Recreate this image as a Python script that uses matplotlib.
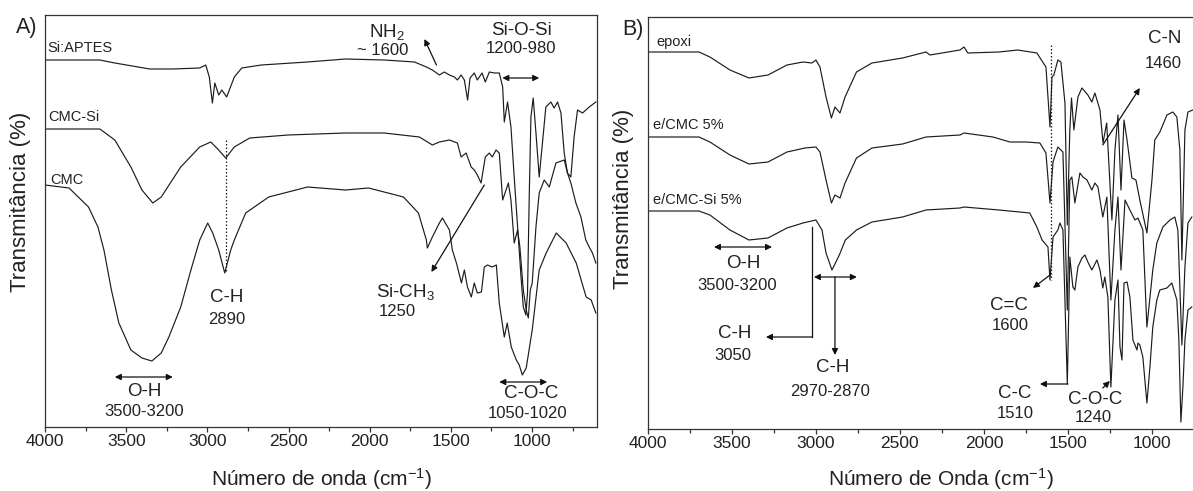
import matplotlib
matplotlib.use('Agg')
import matplotlib.pyplot as plt
from matplotlib.ticker import MultipleLocator

plt.rcParams['font.family'] = ['Liberation Sans', 'DejaVu Sans']
plt.rcParams['mathtext.fontset'] = 'custom'
plt.rcParams['mathtext.rm'] = 'Liberation Sans'
plt.rcParams['mathtext.it'] = 'Liberation Sans:italic'
plt.rcParams['mathtext.default'] = 'regular'

# ---------------- Panel A data (wavenumber cm-1, transmittance a.u. with offsets) -------------
wn_si = [4000, 3662, 3570, 3354, 3213, 3047, 3010, 2988, 2969, 2954, 2930, 2911, 2881, 2834, 2788,
         2668, 2384, 2149, 1911, 1724, 1651, 1614, 1571, 1540, 1509, 1478, 1460, 1437, 1417, 1397,
         1382, 1356, 1337, 1308, 1288, 1263, 1232, 1202, 1181, 1171, 1151, 1130, 1110, 1089, 1068,
         1054, 1038, 1028, 1017, 1007, 993, 976, 956, 936, 915, 884, 864, 843, 822, 802,
         782, 761, 741, 720, 689, 648, 607]
t_si = [363, 363, 360, 354, 354, 355, 358, 346, 320, 340, 328, 333, 326, 346, 355,
        358, 361, 364, 363, 361, 356, 353, 348, 351, 348, 346, 343, 348, 343, 323,
        345, 350, 343, 350, 341, 351, 350, 350, 336, 301, 321, 296, 246, 196, 146,
        116, 108, 130, 230, 306, 325, 290, 246, 280, 316, 321, 315, 321, 310, 270,
        250, 246, 286, 313, 310, 316, 321]

wn_cs = [4000, 3662, 3570, 3471, 3403, 3336, 3284, 3164, 3047, 2979, 2930, 2887, 2834, 2739, 2502,
         2149, 1911, 1694, 1614, 1571, 1509, 1460, 1437, 1406, 1375, 1356, 1337, 1314, 1288, 1263,
         1245, 1222, 1202, 1181, 1146, 1130, 1110, 1089, 1075, 1054, 1036, 1023, 1011, 999, 976,
         956, 925, 894, 853, 802, 782, 761, 730, 699, 669, 648, 628, 607]
t_cs = [294, 294, 283, 256, 233, 220, 226, 256, 276, 281, 273, 265, 276, 285, 288,
        290, 290, 286, 278, 281, 283, 280, 266, 270, 256, 253, 248, 240, 266, 270,
        266, 273, 270, 223, 240, 223, 180, 193, 176, 133, 113, 105, 133, 140, 196,
        230, 243, 236, 260, 263, 250, 240, 220, 206, 183, 176, 170, 160]

wn_c = [4000, 3852, 3732, 3674, 3637, 3591, 3545, 3471, 3403, 3342, 3284, 3237, 3164, 3096, 3047,
        2998, 2967, 2930, 2893, 2856, 2834, 2764, 2622, 2383, 2149, 2007, 1792, 1700, 1651, 1645,
        1614, 1571, 1552, 1509, 1491, 1466, 1435, 1417, 1398, 1374, 1356, 1337, 1312, 1294, 1275,
        1245, 1220, 1202, 1171, 1153, 1128, 1097, 1079, 1060, 1036, 999, 956, 913, 851, 790,
        728, 667, 636, 607]
t_c = [238, 235, 216, 196, 173, 133, 100, 73, 65, 62, 70, 86, 116, 156, 183,
       200, 190, 173, 150, 173, 183, 210, 226, 236, 233, 235, 226, 210, 183, 175,
       186, 200, 205, 193, 173, 160, 140, 153, 136, 126, 140, 130, 131, 156, 158,
       156, 158, 120, 86, 100, 76, 63, 58, 48, 55, 93, 153, 170, 190, 180,
       160, 126, 123, 110]

labels_A = ['Si:APTES', 'CMC-Si', 'CMC']

# ---------------- Panel B data -------------
wn_e = [4000, 3694, 3629, 3510, 3397, 3284, 3171, 3076, 3023, 2999, 2975, 2939, 2907, 2886, 2856,
        2826, 2758, 2666, 2484, 2345, 2321, 2143, 2119, 2096, 1911, 1799, 1686, 1632, 1608, 1596,
        1585, 1561, 1543, 1519, 1505, 1490, 1480, 1466, 1442, 1418, 1383, 1359, 1341, 1311, 1293,
        1271, 1240, 1222, 1204, 1186, 1168, 1150, 1121, 1097, 1074, 1032, 1002, 985, 955, 913,
        878, 854, 836, 824, 806, 788, 759]
t_e = [376, 376, 371, 358, 350, 353, 363, 366, 365, 368, 361, 331, 310, 321, 315,
       331, 356, 365, 370, 376, 373, 378, 381, 375, 376, 378, 375, 361, 301, 351,
       353, 368, 366, 325, 203, 298, 330, 298, 331, 340, 333, 326, 335, 318, 285,
       305, 208, 278, 313, 238, 308, 288, 250, 248, 228, 195, 248, 288, 296, 313,
       316, 311, 278, 168, 298, 316, 318]

wn_m = [4000, 3694, 3629, 3510, 3397, 3284, 3171, 3064, 2999, 2975, 2939, 2907, 2886, 2856, 2826,
        2758, 2666, 2484, 2345, 2143, 2119, 1947, 1846, 1751, 1668, 1632, 1608, 1590, 1561, 1531,
        1505, 1490, 1478, 1460, 1430, 1412, 1388, 1359, 1341, 1323, 1294, 1270, 1246, 1222, 1204,
        1186, 1162, 1133, 1103, 1085, 1056, 1032, 997, 973, 937, 895, 866, 848, 824, 806,
        788, 765]
t_m = [291, 291, 286, 273, 264, 266, 276, 280, 281, 276, 248, 225, 233, 230, 245,
       270, 280, 284, 291, 293, 295, 291, 286, 286, 285, 275, 225, 266, 281, 276,
       118, 248, 251, 225, 255, 251, 248, 238, 245, 241, 211, 231, 128, 198, 231,
       158, 228, 218, 208, 210, 198, 101, 158, 185, 201, 208, 211, 198, 83, 161,
       205, 211]

wn_s = [4000, 3694, 3629, 3510, 3397, 3284, 3171, 3076, 2999, 2963, 2939, 2904, 2883, 2860, 2824,
        2758, 2666, 2484, 2345, 2143, 2119, 1911, 1728, 1686, 1655, 1620, 1608, 1590, 1561, 1549,
        1531, 1505, 1490, 1472, 1460, 1442, 1418, 1400, 1383, 1359, 1329, 1311, 1294, 1282, 1264,
        1246, 1222, 1204, 1192, 1180, 1168, 1150, 1133, 1115, 1091, 1085, 1074, 1056, 1032, 1014,
        997, 973, 955, 913, 884, 854, 842, 830, 818, 806, 788, 765]
t_s = [217, 217, 213, 198, 188, 190, 200, 205, 208, 198, 175, 158, 165, 173, 188,
       198, 206, 211, 218, 220, 221, 218, 215, 201, 188, 181, 148, 191, 198, 205,
       198, 44, 171, 141, 138, 161, 170, 173, 166, 158, 168, 158, 140, 151, 131,
       41, 128, 148, 81, 68, 145, 146, 131, 88, 78, 85, 83, 71, 25, 61,
       101, 128, 138, 140, 145, 128, 88, 6, 41, 88, 118, 121]

labels_B = ['epoxi', 'e/CMC 5%', 'e/CMC-Si 5%']

xticks = [4000, 3500, 3000, 2500, 2000, 1500, 1000]

# ---------------- Figure -------------
W, H = 1193, 491
fig = plt.figure(figsize=(W / 100, H / 100), dpi=100)
axA = fig.add_axes([45 / W, (H - 427) / H, 552 / W, 412 / H])
axB = fig.add_axes([647.5 / W, (H - 429) / H, 545.5 / W, 412 / H])

LC = '#1c1c1c'
TC = '#222222'
lkw = dict(color=LC, lw=0.85)

for wn, t in [(wn_si, t_si), (wn_cs, t_cs), (wn_c, t_c)]:
    axA.plot(wn, t, **lkw)
for wn, t in [(wn_e, t_e), (wn_m, t_m), (wn_s, t_s)]:
    axB.plot(wn, t, **lkw)


def style(ax, xright, ylim):
    ax.set_xlim(4000, xright)
    ax.set_ylim(*ylim)
    ax.set_yticks([])
    ax.set_xticks(xticks)
    ax.xaxis.set_minor_locator(MultipleLocator(250))
    ax.tick_params(axis='x', which='both', direction='out', top=False,
                   labelsize=12.5, pad=1.5, color='#333333', labelcolor=TC, width=0.9)
    ax.tick_params(axis='x', which='major', length=3.8)
    ax.tick_params(axis='x', which='minor', length=3.2)
    for s in ax.spines.values():
        s.set_linewidth(0.9)
        s.set_color('#333333')


style(axA, 600, (-4, 408))
style(axB, 758, (-1, 411))
axB.spines['right'].set_visible(False)

fig.text(322 / W, 1 - 479 / H, 'Número de onda (cm$^{-1}$)', ha='center', va='center',
         fontsize=15, color=TC)
fig.text(941 / W, 1 - 479 / H, 'Número de Onda (cm$^{-1}$)', ha='center', va='center',
         fontsize=15, color=TC)
fig.text(21 / W, 1 - 202 / H, 'Transmitância (%)', rotation=90, ha='center', va='center',
         fontsize=16, color=TC)
fig.text(624 / W, 1 - 199 / H, 'Transmitância (%)', rotation=90, ha='center', va='center',
         fontsize=16, color=TC)
fig.text(27 / W, 1 - 27 / H, 'A)', ha='center', va='center', fontsize=15.5, color=TC)
fig.text(633 / W, 1 - 30 / H, 'B)', ha='center', va='center', fontsize=15.5, color=TC)


def arrow(ax, start, end, style='-|>'):
    ax.annotate('', xy=end, xytext=start,
                arrowprops=dict(arrowstyle=style, color='#111111', lw=0.9,
                                mutation_scale=9, shrinkA=0, shrinkB=0))


def txt(ax, x, y, s, size=13.5, ha='center'):
    ax.text(x, y, s, ha=ha, va='center', fontsize=size, color=TC)


NUM = 12
# ---- Panel A annotations
txt(axA, 3988, 375, labels_A[0], 10.5, 'left')
txt(axA, 3982, 306, labels_A[1], 10.5, 'left')
txt(axA, 3969, 243, labels_A[2], 10.5, 'left')

txt(axA, 1891, 391, 'NH$_2$')
txt(axA, 1921, 373, '~ 1600', NUM)
arrow(axA, (1589, 358), (1663, 384))

txt(axA, 1067, 393, 'Si-O-Si')
txt(axA, 1067, 375, '1200-980', NUM)
arrow(axA, (1183, 345), (956, 345), '<|-|>')

axA.plot([2887, 2887], [283, 150], color=LC, lw=0.9, ls=(0, (1.2, 1.6)))
txt(axA, 2881, 125, 'C-H')
txt(axA, 2881, 103, '2890', NUM)

arrow(axA, (1294, 238), (1620, 151))
txt(axA, 1780, 131, 'Si-CH$_3$')
txt(axA, 1829, 111, '1250', NUM)

arrow(axA, (3570, 46), (3213, 46), '<|-|>')
txt(axA, 3391, 31, 'O-H')
txt(axA, 3391, 11, '3500-3200', NUM)

arrow(axA, (1202, 41), (907, 41), '<|-|>')
txt(axA, 1005, 29, 'C-O-C')
txt(axA, 1030, 10, '1050-1020', NUM)

# ---- Panel B annotations
txt(axB, 3949, 386, labels_B[0], 10.5, 'left')
txt(axB, 3967, 303, labels_B[1], 10.5, 'left')
txt(axB, 3967, 228, labels_B[2], 10.5, 'left')

axB.plot([1602, 1602], [383, 148], color=LC, lw=0.9, ls=(0, (1.2, 1.6)))
arrow(axB, (1608, 153), (1709, 140))
txt(axB, 1851, 123, 'C=C')
txt(axB, 1846, 103, '1600', NUM)

arrow(axB, (1501, 44), (1668, 44))
txt(axB, 1816, 34, 'C-C')
txt(axB, 1816, 15, '1510', NUM)

arrow(axB, (1294, 40), (1252, 47))
txt(axB, 1341, 29, 'C-O-C')
txt(axB, 1353, 11, '1240', NUM)

arrow(axB, (1294, 283), (1074, 340))
txt(axB, 925, 390, 'C-N')
txt(axB, 937, 365, '1460', NUM)

arrow(axB, (3605, 181), (3260, 181), '<|-|>')
txt(axB, 3432, 165, 'O-H')
txt(axB, 3468, 143, '3500-3200', NUM)

axB.plot([3023, 3023], [201, 91], color='#111111', lw=0.9)
arrow(axB, (3023, 91), (3296, 91))
txt(axB, 3480, 95, 'C-H')
txt(axB, 3492, 73, '3050', NUM)

arrow(axB, (3011, 151), (2756, 151), '<|-|>')
arrow(axB, (2886, 151), (2886, 73))
txt(axB, 2898, 60, 'C-H')
txt(axB, 2916, 36, '2970-2870', NUM)

fig.savefig('out.png', dpi=100)
